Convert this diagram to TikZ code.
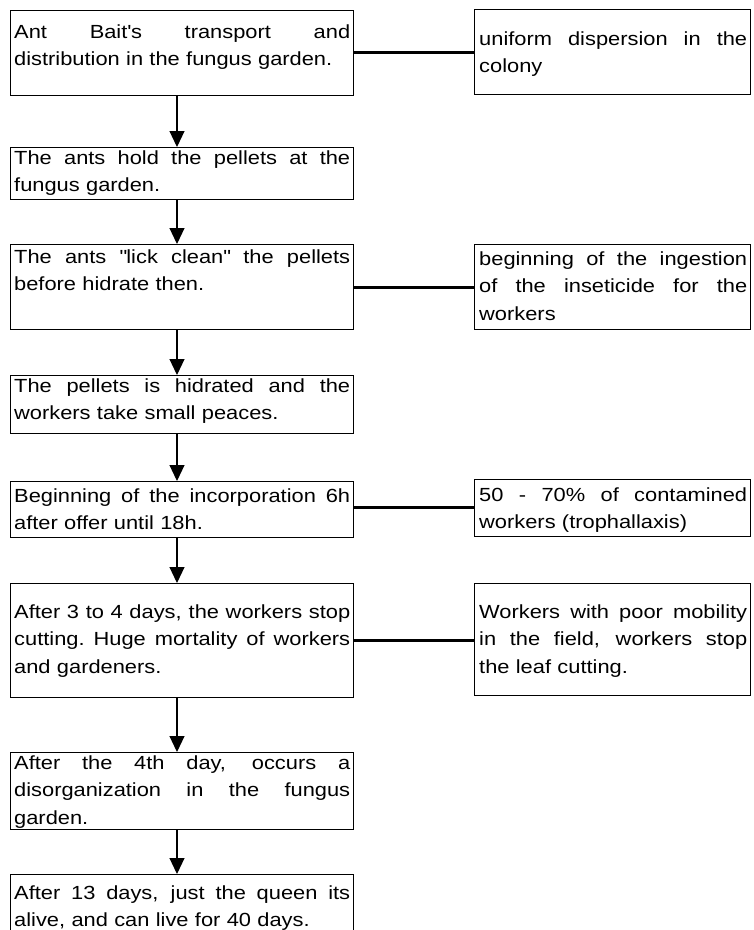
\documentclass[tikz,border=0pt]{standalone}
\usepackage{fontspec}
\setmainfont{Liberation Sans}[FakeStretch=1.15]
\usetikzlibrary{arrows.meta}
\newcommand{\jl}[1]{\noindent\hbox to 336pt{\spaceskip=0.278em plus 20em\relax\xspaceskip=\spaceskip #1}\par}
\newcommand{\jr}[1]{\noindent\hbox to 268pt{\spaceskip=0.278em plus 20em\relax\xspaceskip=\spaceskip #1}\par}
\newcommand{\lastl}[1]{\noindent\hbox{#1}\par}
\begin{document}
\begin{tikzpicture}[x=1pt,y=-1pt,
  box/.style={draw, line width=1.4pt, anchor=north west, inner sep=0pt},
  lbox/.style={box, minimum width=343pt},
  rbox/.style={box, minimum width=276pt},
  txt/.style={anchor=base west, inner sep=0pt, font=\fontsize{19}{27.5}\selectfont},
  ltxt/.style={txt, text width=336pt},
  rtxt/.style={txt, text width=268pt},
  flow/.style={line width=1.1pt, -{Triangle[length=16pt,width=15pt]}},
  link/.style={line width=3pt}]
\useasboundingbox[fill=white] (0,0) rectangle (754,930);
% left boxes
\node[lbox, minimum height=85pt] (b1) at (10,10) {};
\node[lbox, minimum height=52pt] (b2) at (10,147) {};
\node[lbox, minimum height=85pt] (b3) at (10,244) {};
\node[lbox, minimum height=58pt] (b4) at (10,375) {};
\node[lbox, minimum height=56pt] (b5) at (10,481) {};
\node[lbox, minimum height=114pt] (b6) at (10,583) {};
\node[lbox, minimum height=77pt] (b7) at (10,752) {};
\node[lbox, minimum height=70pt] (b8) at (10,874) {};
% right boxes
\node[rbox, minimum height=85pt] (r1) at (474,9) {};
\node[rbox, minimum height=85pt] (r2) at (474,244) {};
\node[rbox, minimum height=57pt] (r3) at (474,479) {};
\node[rbox, minimum height=112pt] (r4) at (474,583) {};
% texts
\node[ltxt] (t1) at (14,38) {\jl{Ant Bait\textquotesingle s transport and}\lastl{distribution in the fungus garden.}};
\node[ltxt] (t2) at (14,164) {\jl{The ants hold the pellets at the}\lastl{fungus garden.}};
\node[ltxt] (t3) at (14,263) {\jl{The ants \textquotedbl lick clean\textquotedbl{} the pellets}\lastl{before hidrate then.}};
\node[ltxt] (t4) at (14,392) {\jl{The pellets is hidrated and the}\lastl{workers take small peaces.}};
\node[ltxt] (t5) at (14,502) {\jl{Beginning of the incorporation 6h}\lastl{after offer until 18h.}};
\node[ltxt] (t6) at (14,618) {\jl{After 3 to 4 days, the workers stop}\jl{cutting. Huge mortality of workers}\lastl{and gardeners.}};
\node[ltxt] (t7) at (14,769) {\jl{After the 4th day, occurs a}\jl{disorganization in the fungus}\lastl{garden.}};
\node[ltxt] (t8) at (14,899) {\jl{After 13 days, just the queen its}\lastl{alive, and can live for 40 days.}};
\node[rtxt] (u1) at (479,45) {\jr{uniform dispersion in the}\lastl{colony}};
\node[rtxt] (u2) at (479,265) {\jr{beginning of the ingestion}\jr{of the inseticide for the}\lastl{workers}};
\node[rtxt] (u3) at (479,501) {\jr{50 - 70\% of contamined}\lastl{workers (trophallaxis)}};
\node[rtxt] (u4) at (479,618) {\jr{Workers with poor mobility}\jr{in the field, workers stop}\lastl{the leaf cutting.}};
% arrows
\coordinate (ax) at (177,0);
\draw[flow] (b1.south -| ax) -- (b2.north -| ax);
\draw[flow] (b2.south -| ax) -- (b3.north -| ax);
\draw[flow] (b3.south -| ax) -- (b4.north -| ax);
\draw[flow] (b4.south -| ax) -- (b5.north -| ax);
\draw[flow] (b5.south -| ax) -- (b6.north -| ax);
\draw[flow] (b6.south -| ax) -- (b7.north -| ax);
\draw[flow] (b7.south -| ax) -- (b8.north -| ax);
% links
\coordinate (k1) at (0,52);
\coordinate (k2) at (0,287);
\coordinate (k3) at (0,507);
\coordinate (k4) at (0,640);
\draw[link] (b1.east |- k1) -- (r1.west |- k1);
\draw[link] (b3.east |- k2) -- (r2.west |- k2);
\draw[link] (b5.east |- k3) -- (r3.west |- k3);
\draw[link] (b6.east |- k4) -- (r4.west |- k4);
\end{tikzpicture}
\end{document}
